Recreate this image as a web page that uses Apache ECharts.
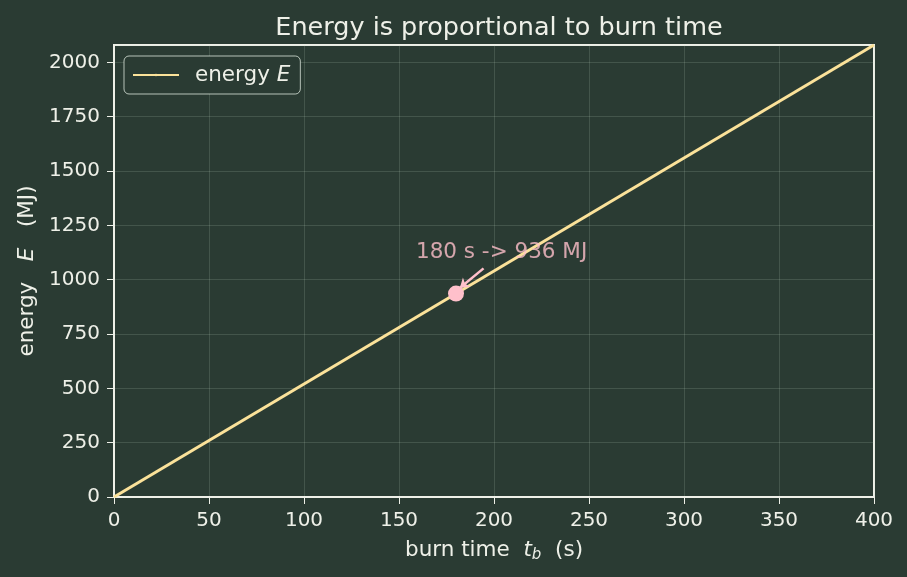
<!DOCTYPE html>
<html>
<head>
<meta charset="utf-8">
<script src="https://cdn.jsdelivr.net/npm/echarts@6/dist/echarts.min.js"></script>
<style>
  html, body { margin: 0; padding: 0; background: #2a3b33; }
  #chart { width: 907px; height: 577px; }
</style>
</head>
<body>
<div id="chart"></div>
<script>
// burn time (s) and energy (MJ)
var burnTime = [0, 400]
var energy = [0, 2080]
var pickTime = 180
var pickEnergy = 936
var noteText = '180 s -> 936 MJ'
var noteAt = [204, 1125]
var arrowFrom = [194.5, 1052]
var arrowTo = [182, 962]

var fg = '#eef0e8'
var pink = '#ffc0cb'
var fs = 21.5
var chart = echarts.init(document.getElementById('chart'))

chart.setOption({
  backgroundColor: '#2a3b33',
  textStyle: { fontFamily: 'DejaVu Sans' },
  animation: false,
  title: {
    text: 'Energy is proportional to burn time',
    left: 494,
    textAlign: 'center',
    top: 10,
    textStyle: { color: fg, fontSize: 25.5, fontWeight: 'normal', fontFamily: 'DejaVu Sans' }
  },
  grid: {
    left: 114, right: 33, top: 45, bottom: 80,
    show: true, borderColor: fg, borderWidth: 2, backgroundColor: 'transparent'
  },
  legend: {
    left: 124, top: 56,
    data: ['energy'],
    itemWidth: 46, itemHeight: 3,
    padding: [8, 10, 8, 8],
    borderColor: 'rgba(230,240,230,0.75)',
    borderWidth: 1,
    borderRadius: 5,
    backgroundColor: '#2a3b33',
    formatter: function () { return '{a|energy }{i|E}' },
    textStyle: {
      color: fg, fontSize: fs, fontFamily: 'DejaVu Sans',
      rich: {
        a: { fontSize: fs, color: fg, padding: [0, 0, 0, 11] },
        i: { fontStyle: 'italic', fontSize: fs, color: fg }
      }
    }
  },
  xAxis: {
    type: 'value', min: 0, max: 400, interval: 50,
    name: 'burn time  {i|t}{s|b}  (s)',
    nameLocation: 'middle', nameGap: 41,
    nameTextStyle: {
      color: fg, fontSize: fs,
      rich: {
        i: { fontStyle: 'italic', fontSize: fs, color: fg },
        s: { fontStyle: 'italic', fontSize: 15, color: fg, verticalAlign: 'bottom', padding: [10, 0, 0, 0] }
      }
    },
    axisLine: { show: true, onZero: false, lineStyle: { color: fg, width: 2 } },
    axisTick: { show: true, length: 7, lineStyle: { color: fg } },
    axisLabel: { color: fg, fontSize: 20, margin: 14 },
    splitLine: { show: true, lineStyle: { color: 'rgba(200,225,205,0.16)', width: 1 } }
  },
  yAxis: {
    type: 'value', min: 0, max: 2080, interval: 250,
    name: 'energy   {i|E}   (MJ)',
    nameLocation: 'middle', nameGap: 75,
    nameTextStyle: {
      color: fg, fontSize: fs,
      rich: { i: { fontStyle: 'italic', fontSize: fs, color: fg } }
    },
    axisLine: { show: true, lineStyle: { color: fg, width: 2 } },
    axisTick: { show: true, length: 7, lineStyle: { color: fg } },
    axisLabel: {
      color: fg, fontSize: 20, margin: 14, showMaxLabel: false,
      formatter: function (v) { return String(v) }
    },
    splitLine: { show: true, lineStyle: { color: 'rgba(200,225,205,0.16)', width: 1 } }
  },
  series: [
    {
      name: 'energy',
      type: 'line',
      data: burnTime.map(function (t, i) { return [t, energy[i]] }),
      symbol: 'none',
      lineStyle: { color: '#fbe29a', width: 3 },
      itemStyle: { color: '#fbe29a' },
      z: 3
    },
    {
      type: 'scatter',
      data: [[pickTime, pickEnergy]],
      symbolSize: 16,
      itemStyle: { color: pink, opacity: 1 },
      z: 5
    },
    {
      type: 'lines',
      coordinateSystem: 'cartesian2d',
      data: [{ coords: [arrowFrom, arrowTo] }],
      symbol: ['none', 'arrow'],
      symbolSize: 9,
      lineStyle: { color: pink, width: 2.5, opacity: 1 },
      z: 4
    },
    {
      type: 'scatter',
      data: [noteAt],
      symbolSize: 0,
      label: {
        show: true, position: 'inside',
        formatter: noteText,
        color: pink, fontSize: fs
      },
      silent: true,
      z: 6
    }
  ]
})
</script>
</body>
</html>
